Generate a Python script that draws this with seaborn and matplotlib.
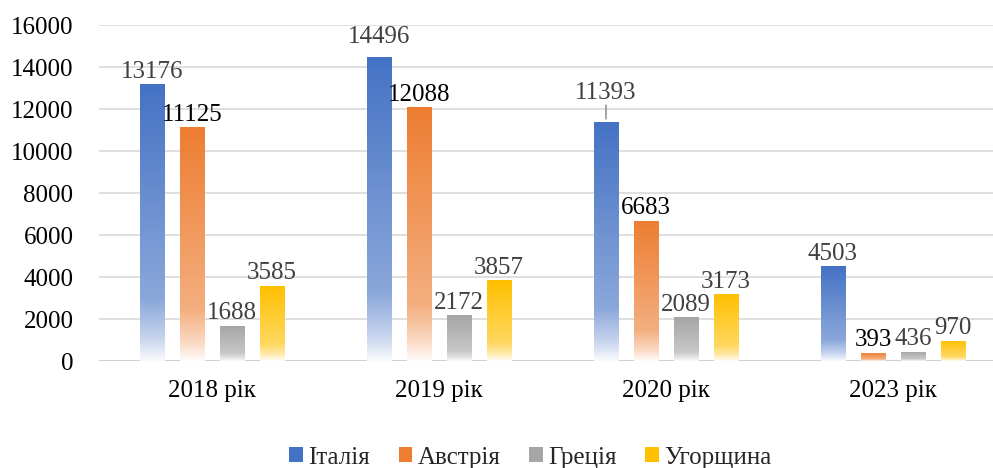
import numpy as np
import pandas as pd
import matplotlib
matplotlib.use("Agg")
import matplotlib.pyplot as plt
import matplotlib.colors as mcolors
from matplotlib import font_manager
from matplotlib.font_manager import FontProperties
from matplotlib.patches import Patch
import seaborn as sns

# data
years = ["2018 рік", "2019 рік", "2020 рік", "2023 рік"]
countries = ["Італія", "Австрія", "Греція", "Угорщина"]
italy = [13176, 14496, 11393, 4503]
austria = [11125, 12088, 6683, 393]
greece = [1688, 2172, 2089, 436]
hungary = [3585, 3857, 3173, 970]

colors = ["#4472C4", "#ED7D31", "#A5A5A5", "#FFC000"]
label_colors = ["#404040", "#000000", "#404040", "#404040"]

rows = []
for c, vals in zip(countries, [italy, austria, greece, hungary]):
    for y, v in zip(years, vals):
        rows.append((y, c, v))
df = pd.DataFrame(rows, columns=["year", "country", "value"])

sns.set_style("white")
# use the font file directly so nothing can swap it for a sans face
serif_path = font_manager.findfont("Liberation Serif")
fp = FontProperties(fname=serif_path, size=18)

fig = plt.figure(figsize=(9.93, 4.68), dpi=100)
ax = fig.add_axes([98.5 / 993, 107 / 468, 908 / 993, 336 / 468])

sns.barplot(
    data=df, x="year", y="value", hue="country", order=years,
    hue_order=countries, palette=colors, width=0.705, gap=0.4,
    legend=False, ax=ax, zorder=3,
)


def gradient_img(color, n=256):
    rgb = np.array(mcolors.to_rgb(color))
    t = np.linspace(1, 0, n)  # top row first
    w = np.interp(t, [0, 0.08, 0.22, 1], [0.03, 0.3, 0.62, 1.0])
    img = w[:, None] * rgb[None, :] + (1 - w[:, None]) * np.ones(3)[None, :]
    return img[:, None, :]


# fill bars with a vertical fade to white, as in the original
for ci, cont in enumerate(ax.containers):
    img = gradient_img(colors[ci])
    for bar in cont:
        x0 = bar.get_x()
        x1 = x0 + bar.get_width()
        h = bar.get_height()
        im = ax.imshow(img, extent=[x0, x1, 0, h], aspect="auto",
                       origin="upper", zorder=3)
        im.set_clip_path(bar)
        bar.set_facecolor("none")
        bar.set_edgecolor("none")

# value labels
nudge = {(0, 1): 5, (0, 2): 12}
for ci, cont in enumerate(ax.containers):
    for k, bar in enumerate(cont):
        h = bar.get_height()
        xc = bar.get_x() + bar.get_width() / 2
        off = 1 + nudge.get((ci, k), 0)
        ax.annotate(f"{int(h)}", (xc, h), xytext=(0, off),
                    textcoords="offset points", ha="center", va="bottom",
                    fontproperties=fp, color=label_colors[ci], zorder=5)
        if (ci, k) == (0, 2):
            ax.annotate("", (xc, h), xytext=(0, off + 1),
                        textcoords="offset points",
                        arrowprops=dict(arrowstyle="-", color="#808080", lw=1))

ax.set_ylim(0, 16000)
ax.set_xlim(-0.5, 3.5)
ax.set_yticks(range(0, 16001, 2000))
ax.grid(axis="y", color="#D9D9D9", lw=1.2, zorder=0)
ax.axhline(0, color="#D0D0D0", lw=1.4, zorder=2)
for s in ax.spines.values():
    s.set_visible(False)
ax.set_xlabel("")
ax.set_ylabel("")
ax.tick_params(axis="y", length=0, pad=18, labelcolor="black")
ax.tick_params(axis="x", length=0, pad=14, labelcolor="black")
for lbl in ax.get_xticklabels() + ax.get_yticklabels():
    lbl.set_fontproperties(fp)

handles = [Patch(facecolor=c, edgecolor="none") for c in colors]
fig.legend(handles, countries, loc="center", bbox_to_anchor=(0.534, 0.022),
           ncol=4, frameon=False, prop=fp,
           handlelength=0.55, handleheight=0.55, handletextpad=0.2,
           columnspacing=1.15)

fig.savefig("out.png", dpi=100, facecolor="white")
